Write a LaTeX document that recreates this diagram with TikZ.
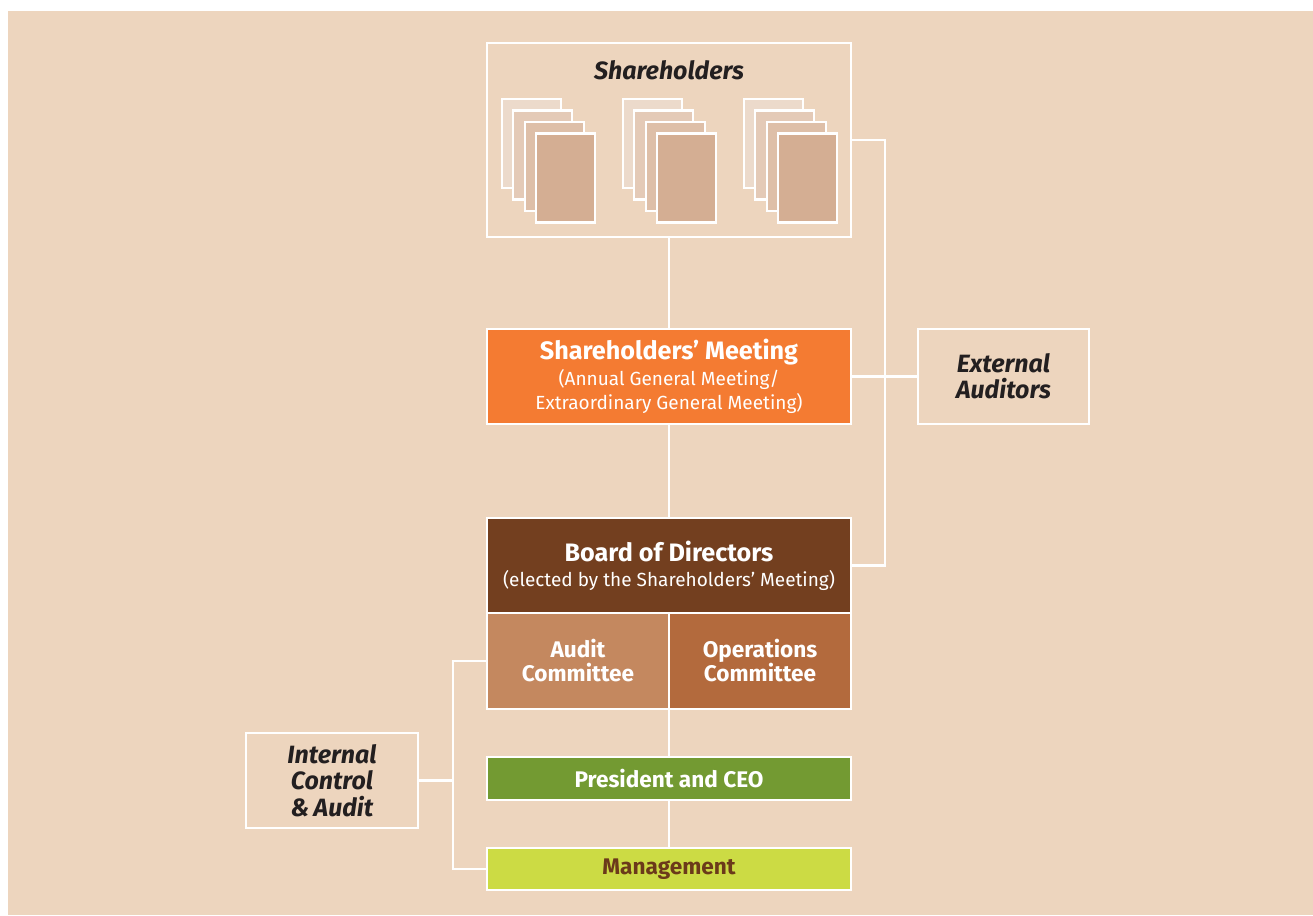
\documentclass[tikz,border=0pt]{standalone}
\usepackage{fontspec}
\setmainfont{Fira Sans}
\definecolor{bgc}{HTML}{EDD5BE}
\definecolor{inkc}{HTML}{231F20}
\definecolor{orangec}{HTML}{F47B32}
\definecolor{boardc}{HTML}{733F1F}
\definecolor{auditc}{HTML}{C4885F}
\definecolor{opsc}{HTML}{B36A3D}
\definecolor{presc}{HTML}{739A32}
\definecolor{mgmtc}{HTML}{CCDB44}
\definecolor{mgmttxt}{HTML}{6B3A1A}
\definecolor{docA}{HTML}{ECDACB}
\definecolor{docB}{HTML}{E4CAB7}
\definecolor{docC}{HTML}{DEBFA8}
\definecolor{docD}{HTML}{D4AE93}
\newcommand{\subf}{\fontsize{19}{24}\selectfont\mdseries}
\newcommand{\titf}{\fontsize{25.2}{27}\selectfont\bfseries}
\tikzset{
  box/.style={draw=white, line width=2.8pt, rectangle, inner sep=0pt, align=center},
  plainbox/.style={box, fill=bgc, text=inkc, font=\fontsize{25}{26.3}\selectfont\bfseries\itshape},
  link/.style={draw=white, line width=2.8pt},
  docsheet/.style={draw=white, line width=2.2pt},
  bodyf/.style={font=\fontsize{22.6}{24}\selectfont\bfseries},
  twoline/.style={font=\subf},
}
\begin{document}
\begin{tikzpicture}[x=1pt,y=-1pt]
\useasboundingbox (0,0) rectangle (1313,915);
\fill[bgc] (8,11) rectangle (1313,915);
% Shareholders box
\node[plainbox, minimum width=364pt, minimum height=194pt] (sh) at (669,140) {};
\node[text=inkc, font=\fontsize{25}{28}\selectfont\bfseries\itshape] (shl) at (669,70) {Shareholders};
\foreach \g in {0,1,2}{
  \foreach \i/\c in {0/docA,1/docB,2/docC,3/docD}{
    \filldraw[docsheet, fill=\c] ({501.7+121*\g+11.5*\i},{99+11.5*\i}) rectangle ++(59,89);
  }
}
% main boxes
\node[box, twoline, fill=orangec, text=white, minimum width=364pt, minimum height=95pt] (sm) at (669,376.5)
  {{\titf Shareholders’ Meeting}\\[2pt]
   {\subf (Annual General Meeting/}\\ {\subf Extraordinary General Meeting)}};
\node[plainbox, minimum width=171pt, minimum height=95pt] (ea) at (1003.5,376.5) {External\\Auditors};
\node[box, twoline, fill=boardc, text=white, minimum width=364pt, minimum height=95pt] (bd) at (669,565.5)
  {{\titf Board of Directors}\\[1pt]
   {\subf (elected by the Shareholders’ Meeting)}};
\node[box, fill=auditc, text=white, minimum width=182pt, minimum height=96pt, bodyf] (ac) at (578,661) {Audit\\Committee};
\node[box, fill=opsc, text=white, minimum width=182pt, minimum height=96pt, bodyf] (oc) at (760,661) {Operations\\Committee};
\node[box, fill=presc, text=white, minimum width=364pt, minimum height=43pt, bodyf] (pc) at (669,778.5) {President and CEO};
\node[box, fill=mgmtc, text=mgmttxt, minimum width=364pt, minimum height=42pt, bodyf] (mg) at (669,869) {Management};
\node[plainbox, minimum width=172pt, minimum height=95pt] (ic) at (332,780.5) {Internal\\Control\\\&\,Audit};
% connectors
\coordinate (rr) at (885,0);
\coordinate (ll) at (453,0);
\draw[link] (sh.south) -- (sm.north);
\draw[link] (sm.south) -- (bd.north);
\draw[link] (sh.east) -- (rr |- sh.east) -- (rr |- bd.east) -- (bd.east);
\draw[link] (sm.east) -- (ea.west);
\draw[link] (pc.north) -- (pc.north |- ac.south);
\draw[link] (pc.south) -- (mg.north);
\draw[link] (ac.west) -- (ll |- ac.west) -- (ll |- mg.west) -- (mg.west);
\draw[link] (ic.east) -- (ll |- ic.east);
\end{tikzpicture}
\end{document}
